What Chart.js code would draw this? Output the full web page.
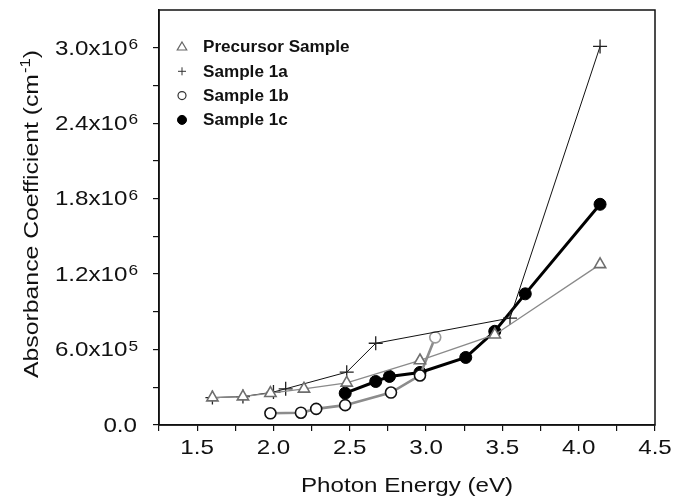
<!DOCTYPE html>
<html>
<head>
<meta charset="utf-8">
<script src="https://cdn.jsdelivr.net/npm/chart.js@4.4.0/dist/chart.umd.min.js"></script>
<style>
  html, body { margin: 0; padding: 0; background: #fff; }
  #wrap { position: relative; width: 674px; height: 498px; }
</style>
</head>
<body>
<div id="wrap"><canvas id="chart_absorbance"></canvas></div>
<script>
// values (x in eV, y in cm^-1)
const precursorX = [1.6, 1.8, 1.98, 2.2, 2.48, 2.96, 3.45, 4.14];
const precursorY = [218000, 226000, 253000, 287000, 335000, 513000, 718000, 1277000];

const sample1aX = [1.6, 1.8, 2.0, 2.08, 2.48, 2.67, 3.55, 4.14];
const sample1aY = [218000, 226000, 262000, 288000, 420000, 650000, 850000, 3010000];

const sample1bX = [1.98, 2.18, 2.28, 2.47, 2.77, 2.96, 3.06];
const sample1bY = [93000, 98000, 128000, 158000, 258000, 394000, 697000];

const sample1cX = [2.47, 2.67, 2.76, 2.96, 3.26, 3.45, 3.65, 4.14];
const sample1cY = [253000, 346000, 386000, 418000, 537000, 745000, 1043000, 1755000];

const seriesNames = ['Precursor Sample', 'Sample 1a', 'Sample 1b', 'Sample 1c'];

const xTickValues = [1.5, 2.0, 2.5, 3.0, 3.5, 4.0, 4.5];
const xTickLabels = ['1.5', '2.0', '2.5', '3.0', '3.5', '4.0', '4.5'];
const yTickValues = [0, 600000, 1200000, 1800000, 2400000, 3000000];
const yTickMantissas = ['0.0', '6.0x10', '1.2x10', '1.8x10', '2.4x10', '3.0x10'];
const yTickExponents = ['', '5', '6', '6', '6', '6'];

const xTitle = 'Photon Energy (eV)';
const yTitleMain = 'Absorbance Coefficient (cm';
const yTitleSup = '-1';
const yTitleEnd = ')';

const FONT = "'Liberation Sans', Arial, sans-serif";
const STRETCH = 1.15;

function toPoints(xs, ys) {
  return xs.map((x, i) => ({ x: x, y: ys[i] }));
}

// draw text squeezed/stretched horizontally, returns drawn width
function stretchedText(ctx, text, x, y, align, sx) {
  const w = ctx.measureText(text).width * sx;
  let left = x;
  if (align === 'right') left = x - w;
  else if (align === 'center') left = x - w / 2;
  ctx.save();
  ctx.translate(left, y);
  ctx.scale(sx, 1);
  ctx.textAlign = 'left';
  ctx.fillText(text, 0, 0);
  ctx.restore();
  return w;
}

function drawMarker(ctx, style, x, y, r) {
  ctx.beginPath();
  if (style === 'triangle') {
    ctx.moveTo(x, y - r);
    ctx.lineTo(x + r * 0.95, y + r * 0.6);
    ctx.lineTo(x - r * 0.95, y + r * 0.6);
    ctx.closePath();
    ctx.fill();
    ctx.stroke();
  } else if (style === 'cross') {
    ctx.moveTo(x - r, y); ctx.lineTo(x + r, y);
    ctx.moveTo(x, y - r); ctx.lineTo(x, y + r);
    ctx.stroke();
  } else {
    ctx.arc(x, y, r, 0, Math.PI * 2);
    ctx.fill();
    ctx.stroke();
  }
}

const axisTextPlugin = {
  id: 'axisText',
  afterDraw: (chart) => {
    const ctx = chart.ctx;
    const area = chart.chartArea;
    const xs = chart.scales.x;
    const ys = chart.scales.y;
    ctx.save();

    // frame
    ctx.strokeStyle = '#111';
    ctx.lineWidth = 1.5;
    ctx.strokeRect(area.left, area.top, area.right - area.left, area.bottom - area.top);

    ctx.fillStyle = '#111';
    ctx.textBaseline = 'middle';

    // x tick labels
    ctx.font = '21px ' + FONT;
    xTickValues.forEach((v, i) => {
      stretchedText(ctx, xTickLabels[i], xs.getPixelForValue(v), area.bottom + 23, 'center', STRETCH);
    });

    // y tick labels with superscript exponent
    yTickValues.forEach((v, i) => {
      const py = ys.getPixelForValue(v);
      const right = area.left - 22;
      ctx.font = '15px ' + FONT;
      const wSup = yTickExponents[i] ? ctx.measureText(yTickExponents[i]).width * STRETCH : 0;
      ctx.font = '21px ' + FONT;
      const wMain = ctx.measureText(yTickMantissas[i]).width * STRETCH;
      ctx.textBaseline = 'middle';
      stretchedText(ctx, yTickMantissas[i], right - wSup - wMain, py + 1, 'left', STRETCH);
      if (yTickExponents[i]) {
        ctx.font = '15px ' + FONT;
        ctx.textBaseline = 'alphabetic';
        stretchedText(ctx, yTickExponents[i], right - wSup + 1, py + 1, 'left', STRETCH);
      }
    });

    // x title
    ctx.font = '21px ' + FONT;
    ctx.textBaseline = 'middle';
    stretchedText(ctx, xTitle, (area.left + area.right) / 2, area.bottom + 61, 'center', STRETCH);

    // y title, rotated
    ctx.save();
    ctx.translate(32, (area.top + area.bottom) / 2 - 3);
    ctx.rotate(-Math.PI / 2);
    ctx.font = '21px ' + FONT;
    const w1 = ctx.measureText(yTitleMain).width * 1.18;
    const w3 = ctx.measureText(yTitleEnd).width * 1.18;
    ctx.font = '14px ' + FONT;
    const w2 = ctx.measureText(yTitleSup).width * 1.18;
    let cx = -(w1 + w2 + w3) / 2;
    ctx.font = '21px ' + FONT;
    ctx.textBaseline = 'middle';
    cx += stretchedText(ctx, yTitleMain, cx, 0, 'left', 1.18);
    ctx.font = '14px ' + FONT;
    ctx.textBaseline = 'alphabetic';
    cx += stretchedText(ctx, yTitleSup, cx + 1, -2, 'left', 1.18) + 1;
    ctx.font = '21px ' + FONT;
    ctx.textBaseline = 'middle';
    stretchedText(ctx, yTitleEnd, cx, 0, 'left', 1.18);
    ctx.restore();

    // legend inside the plot, top left
    const styles = [
      { shape: 'triangle', r: 5, stroke: '#666', fill: '#fff', lw: 1.2 },
      { shape: 'cross', r: 4, stroke: '#333', fill: '#333', lw: 1 },
      { shape: 'circle', r: 4, stroke: '#333', fill: '#fff', lw: 1.2 },
      { shape: 'circle', r: 4.5, stroke: '#000', fill: '#000', lw: 1 }
    ];
    ctx.font = 'bold 16px ' + FONT;
    ctx.textBaseline = 'middle';
    seriesNames.forEach((name, i) => {
      const ly = area.top + 37 + i * 24.3;
      const s = styles[i];
      ctx.strokeStyle = s.stroke;
      ctx.fillStyle = s.fill;
      ctx.lineWidth = s.lw;
      drawMarker(ctx, s.shape, area.left + 23, ly, s.r);
      ctx.fillStyle = '#111';
      stretchedText(ctx, name, area.left + 44, ly + 1, 'left', 1.07);
    });

    ctx.restore();
  }
};

const whiteBackground = {
  id: 'whiteBackground',
  beforeDraw: (chart) => {
    const ctx = chart.canvas.getContext('2d');
    ctx.save();
    ctx.globalCompositeOperation = 'destination-over';
    ctx.fillStyle = 'white';
    ctx.fillRect(0, 0, chart.canvas.width, chart.canvas.height);
    ctx.restore();
  }
};

const chart_absorbance = new Chart(document.getElementById('chart_absorbance'), {
  type: 'scatter',
  data: {
    datasets: [
      {
        label: seriesNames[0],
        data: toPoints(precursorX, precursorY),
        showLine: true,
        borderColor: '#8a8a8a',
        borderWidth: 1.3,
        pointStyle: 'triangle',
        pointRadius: 6.5,
        pointBorderColor: '#6e6e6e',
        pointBackgroundColor: '#fff',
        pointBorderWidth: 1.6
      },
      {
        label: seriesNames[1],
        data: toPoints(sample1aX, sample1aY),
        showLine: true,
        borderColor: '#111',
        borderWidth: 1,
        pointStyle: 'cross',
        pointRadius: 7,
        pointBorderColor: '#222',
        pointBorderWidth: 1.3
      },
      {
        label: seriesNames[2],
        data: toPoints(sample1bX, sample1bY),
        showLine: true,
        borderColor: '#8c8c8c',
        borderWidth: 2.6,
        pointStyle: 'circle',
        pointRadius: 5.5,
        pointBorderColor: ['#111', '#111', '#111', '#111', '#111', '#111', '#9a9a9a'],
        pointBackgroundColor: '#fff',
        pointBorderWidth: 1.6
      },
      {
        label: seriesNames[3],
        data: toPoints(sample1cX, sample1cY),
        showLine: true,
        borderColor: '#000',
        borderWidth: 3,
        pointStyle: 'circle',
        pointRadius: 6,
        pointBorderColor: '#000',
        pointBackgroundColor: '#000',
        pointBorderWidth: 1
      }
    ]
  },
  options: {
    animation: false,
    responsive: true,
    maintainAspectRatio: false,
    layout: { padding: { top: 10, right: 19, left: 0, bottom: 0 } },
    plugins: {
      legend: { display: false },
      tooltip: { enabled: false },
      title: { display: false }
    },
    scales: {
      x: {
        type: 'linear',
        min: 1.25,
        max: 4.5,
        ticks: { stepSize: 0.25, display: false },
        grid: { drawOnChartArea: false, drawTicks: true, tickLength: 6, color: '#111', lineWidth: 1.2 },
        border: { display: true, color: '#111', width: 1.5 },
        afterFit: (scale) => { scale.height = 73; }
      },
      y: {
        type: 'linear',
        min: 0,
        max: 3300000,
        ticks: { stepSize: 300000, display: false },
        grid: {
          drawOnChartArea: false,
          drawTicks: true,
          tickLength: 6,
          lineWidth: 1.2,
          color: (c) => (c.tick && c.tick.value > 3200000 ? 'rgba(0,0,0,0)' : '#111')
        },
        border: { display: true, color: '#111', width: 1.5 },
        afterFit: (scale) => { scale.width = 159; }
      }
    }
  },
  plugins: [whiteBackground, axisTextPlugin]
});
</script>
</body>
</html>
